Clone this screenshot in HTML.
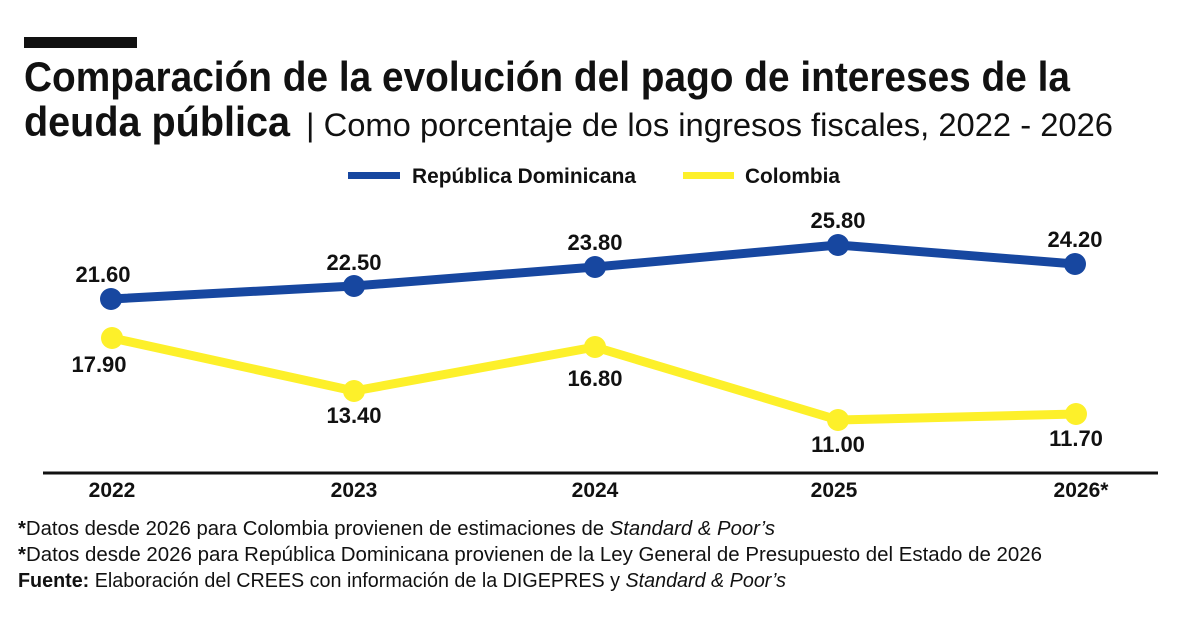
<!DOCTYPE html>
<html><head><meta charset="utf-8"><style>
html,body{margin:0;padding:0;background:#fff;}
svg{display:block;}
text{font-family:"Liberation Sans Narrow","Liberation Sans",sans-serif;fill:#111;}
.b{font-weight:bold;}
</style></head><body>
<svg width="1200" height="621" viewBox="0 0 1200 621" xmlns="http://www.w3.org/2000/svg">
<rect x="0" y="0" width="1200" height="621" fill="#fff"/>
<rect x="24" y="37" width="113" height="11" fill="#111"/>
<text x="24" y="91" class="b" font-size="42" textLength="1046" lengthAdjust="spacingAndGlyphs">Comparación de la evolución del pago de intereses de la</text>
<text x="24" y="136" class="b" font-size="42" textLength="266" lengthAdjust="spacingAndGlyphs">deuda pública</text>
<text x="306" y="136" font-size="32" textLength="807" lengthAdjust="spacingAndGlyphs">|  Como porcentaje de los ingresos fiscales, 2022 - 2026</text>
<rect x="348" y="172" width="52" height="7" fill="#1747a0"/>
<text x="412" y="183" class="b" font-size="21" textLength="224" lengthAdjust="spacingAndGlyphs">República Dominicana</text>
<rect x="683" y="172" width="51" height="7" fill="#fdf02a"/>
<text x="745" y="183" class="b" font-size="21" textLength="95" lengthAdjust="spacingAndGlyphs">Colombia</text>
<line x1="43" y1="473" x2="1158" y2="473" stroke="#111" stroke-width="3"/>
<g class="b" font-size="21" text-anchor="middle">
<text x="112" y="497" class="b">2022</text>
<text x="354" y="497" class="b">2023</text>
<text x="595" y="497" class="b">2024</text>
<text x="834" y="497" class="b">2025</text>
<text x="1081" y="497" class="b">2026*</text>
</g>
<polyline points="111,299 354,286 595,267 838,245 1075,264" fill="none" stroke="#1747a0" stroke-width="9" stroke-linejoin="round"/>
<g fill="#1747a0"><circle cx="111" cy="299" r="11"/><circle cx="354" cy="286" r="11"/><circle cx="595" cy="267" r="11"/><circle cx="838" cy="245" r="11"/><circle cx="1075" cy="264" r="11"/></g>
<polyline points="112,338 354,391 595,347 838,420 1076,414" fill="none" stroke="#fdf02a" stroke-width="9" stroke-linejoin="round"/>
<g fill="#fdf02a"><circle cx="112" cy="338" r="11"/><circle cx="354" cy="391" r="11"/><circle cx="595" cy="347" r="11"/><circle cx="838" cy="420" r="11"/><circle cx="1076" cy="414" r="11"/></g>
<g font-size="22" text-anchor="middle">
<text x="103" y="282" class="b">21.60</text>
<text x="354" y="270" class="b">22.50</text>
<text x="595" y="250" class="b">23.80</text>
<text x="838" y="228" class="b">25.80</text>
<text x="1075" y="247" class="b">24.20</text>
<text x="99" y="372" class="b">17.90</text>
<text x="354" y="423" class="b">13.40</text>
<text x="595" y="386" class="b">16.80</text>
<text x="838" y="452" class="b">11.00</text>
<text x="1076" y="446" class="b">11.70</text>
</g>
<g font-size="20">
<text x="18" y="535" textLength="757" lengthAdjust="spacingAndGlyphs"><tspan class="b">*</tspan>Datos desde 2026 para Colombia provienen de estimaciones de <tspan font-style="italic">Standard &amp; Poor’s</tspan></text>
<text x="18" y="561" textLength="1024" lengthAdjust="spacingAndGlyphs"><tspan class="b">*</tspan>Datos desde 2026 para República Dominicana provienen de la Ley General de  Presupuesto del Estado de 2026</text>
<text x="18" y="587" textLength="768" lengthAdjust="spacingAndGlyphs"><tspan class="b">Fuente:</tspan> Elaboración del CREES con información de la DIGEPRES y <tspan font-style="italic">Standard &amp; Poor’s</tspan></text>
</g>
</svg>
</body></html>
